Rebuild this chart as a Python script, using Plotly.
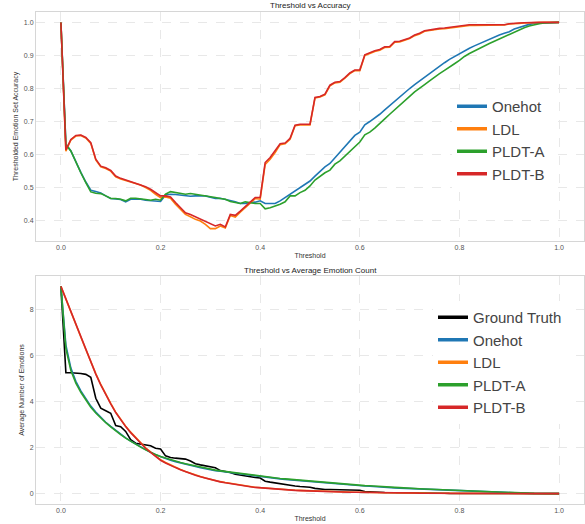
import plotly.graph_objects as go

threshold = [round(i * 0.01, 2) for i in range(101)]

# ---- Top chart: Threshold vs Accuracy ----
acc_onehot = [
    1.0, 0.632, 0.611, 0.577, 0.546, 0.517, 0.492, 0.488, 0.484, 0.475,
    0.467, 0.466, 0.464, 0.457, 0.465, 0.465, 0.465, 0.462, 0.460, 0.460,
    0.458, 0.478, 0.480, 0.479, 0.477, 0.475, 0.474, 0.475, 0.475, 0.475,
    0.471, 0.467, 0.468, 0.465, 0.460, 0.457, 0.452, 0.452, 0.455, 0.456,
    0.460, 0.452, 0.452, 0.452, 0.460, 0.470, 0.480, 0.490, 0.500, 0.510,
    0.520, 0.535, 0.550, 0.563, 0.573, 0.590, 0.609, 0.626, 0.643, 0.658,
    0.668, 0.690, 0.700, 0.710, 0.722, 0.735, 0.748, 0.762, 0.776, 0.788,
    0.800, 0.812, 0.823, 0.835, 0.847, 0.858, 0.868, 0.878, 0.888, 0.897,
    0.906, 0.914, 0.922, 0.929, 0.936, 0.943, 0.950, 0.956, 0.962, 0.967,
    0.972, 0.980, 0.985, 0.990, 0.994, 0.997, 0.998, 0.999, 1.0, 1.0,
    1.0]
acc_ldl = [
    1.0, 0.610, 0.644, 0.656, 0.658, 0.650, 0.634, 0.584, 0.563, 0.558,
    0.550, 0.533, 0.526, 0.521, 0.516, 0.513, 0.508, 0.500, 0.492, 0.480,
    0.470, 0.472, 0.468, 0.450, 0.435, 0.419, 0.412, 0.404, 0.399, 0.389,
    0.376, 0.376, 0.384, 0.378, 0.416, 0.411, 0.426, 0.440, 0.455, 0.467,
    0.465, 0.570, 0.586, 0.606, 0.630, 0.633, 0.646, 0.687, 0.690, 0.690,
    0.690, 0.771, 0.774, 0.781, 0.808, 0.817, 0.819, 0.831, 0.845, 0.854,
    0.854, 0.900, 0.907, 0.912, 0.916, 0.924, 0.925, 0.940, 0.941, 0.945,
    0.951, 0.960, 0.965, 0.973, 0.976, 0.978, 0.980, 0.981, 0.983, 0.984,
    0.986, 0.990, 0.991, 0.991, 0.991, 0.991, 0.991, 0.991, 0.992, 0.992,
    0.995, 0.997, 0.997, 0.998, 0.999, 1.0, 1.0, 1.0, 1.0, 1.0,
    1.0]
acc_pldt_a = [
    1.0, 0.630, 0.611, 0.576, 0.545, 0.515, 0.487, 0.483, 0.482, 0.475,
    0.467, 0.467, 0.465, 0.460, 0.468, 0.468, 0.467, 0.464, 0.462, 0.465,
    0.462, 0.480, 0.488, 0.485, 0.482, 0.480, 0.482, 0.480, 0.478, 0.475,
    0.472, 0.470, 0.467, 0.465, 0.458, 0.455, 0.452, 0.457, 0.454, 0.452,
    0.452, 0.436, 0.439, 0.444, 0.450, 0.457, 0.475, 0.475, 0.485, 0.492,
    0.505, 0.523, 0.535, 0.545, 0.553, 0.571, 0.581, 0.596, 0.611, 0.626,
    0.638, 0.660, 0.668, 0.680, 0.693, 0.708, 0.722, 0.735, 0.748, 0.762,
    0.776, 0.790, 0.800, 0.812, 0.823, 0.835, 0.845, 0.855, 0.864, 0.875,
    0.885, 0.897, 0.906, 0.914, 0.921, 0.930, 0.936, 0.943, 0.950, 0.958,
    0.965, 0.972, 0.978, 0.984, 0.989, 0.993, 0.996, 0.998, 0.999, 1.0,
    1.0]
acc_pldt_b = [
    1.0, 0.614, 0.646, 0.658, 0.659, 0.652, 0.636, 0.586, 0.565, 0.560,
    0.552, 0.535, 0.528, 0.523, 0.518, 0.515, 0.510, 0.503, 0.495, 0.485,
    0.475, 0.475, 0.472, 0.455, 0.440, 0.424, 0.419, 0.412, 0.406, 0.399,
    0.391, 0.384, 0.389, 0.381, 0.419, 0.416, 0.429, 0.442, 0.457, 0.470,
    0.470, 0.576, 0.591, 0.611, 0.633, 0.635, 0.649, 0.689, 0.692, 0.692,
    0.692, 0.773, 0.776, 0.783, 0.810, 0.819, 0.821, 0.833, 0.847, 0.856,
    0.856, 0.902, 0.909, 0.914, 0.918, 0.926, 0.927, 0.942, 0.943, 0.947,
    0.953, 0.962, 0.967, 0.975, 0.978, 0.980, 0.982, 0.983, 0.985, 0.986,
    0.988, 0.992, 0.993, 0.993, 0.993, 0.993, 0.993, 0.993, 0.993, 0.993,
    0.996, 0.998, 0.998, 0.999, 1.0, 1.0, 1.0, 1.0, 1.0, 1.0,
    1.0]

# ---- Bottom chart: Threshold vs Average Emotion Count ----
cnt_ground_truth = [
    9.0, 5.25, 5.25, 5.25, 5.22, 5.18, 5.05, 4.14, 3.71, 3.60,
    3.49, 2.96, 2.91, 2.70, 2.34, 2.19, 2.15, 2.12, 2.08, 1.97,
    1.94, 1.64, 1.57, 1.54, 1.52, 1.50, 1.42, 1.30, 1.25, 1.20,
    1.15, 1.12, 1.00, 0.97, 0.92, 0.84, 0.80, 0.76, 0.72, 0.70,
    0.68, 0.54, 0.50, 0.46, 0.43, 0.41, 0.36, 0.33, 0.31, 0.30,
    0.28, 0.23, 0.20, 0.18, 0.18, 0.17, 0.17, 0.16, 0.16, 0.15,
    0.15, 0.09, 0.07, 0.06, 0.06, 0.05, 0.05, 0.04, 0.04, 0.04,
    0.03, 0.03, 0.03, 0.02, 0.02, 0.02, 0.02, 0.02, 0.01, 0.01,
    0.01, 0.01, 0.01, 0.01, 0.01, 0.01, 0.0, 0.0, 0.0, 0.0,
    0.0, 0.0, 0.0, 0.0, 0.0, 0.0, 0.0, 0.0, 0.0, 0.0,
    0.0]
cnt_onehot = [
    9.0, 6.45, 5.45, 4.88, 4.46, 4.10, 3.80, 3.54, 3.31, 3.10,
    2.92, 2.74, 2.57, 2.42, 2.28, 2.15, 2.02, 1.90, 1.79, 1.69,
    1.60, 1.52, 1.45, 1.39, 1.33, 1.28, 1.23, 1.18, 1.13, 1.08,
    1.04, 1.00, 0.97, 0.94, 0.91, 0.88, 0.85, 0.82, 0.79, 0.76,
    0.74, 0.71, 0.69, 0.66, 0.64, 0.62, 0.60, 0.58, 0.56, 0.54,
    0.52, 0.50, 0.48, 0.46, 0.44, 0.43, 0.41, 0.39, 0.38, 0.36,
    0.35, 0.33, 0.32, 0.30, 0.29, 0.28, 0.26, 0.25, 0.24, 0.23,
    0.22, 0.21, 0.20, 0.19, 0.18, 0.17, 0.16, 0.15, 0.14, 0.13,
    0.12, 0.11, 0.10, 0.09, 0.08, 0.07, 0.06, 0.05, 0.045, 0.04,
    0.03, 0.025, 0.02, 0.015, 0.01, 0.008, 0.006, 0.004, 0.002, 0.001,
    0.0]
cnt_ldl = [
    9.0, 8.47, 7.90, 7.35, 6.80, 6.26, 5.72, 5.21, 4.74, 4.31,
    3.92, 3.54, 3.22, 2.93, 2.67, 2.43, 2.21, 1.99, 1.81, 1.63,
    1.47, 1.35, 1.24, 1.14, 1.05, 0.96, 0.88, 0.81, 0.74, 0.68,
    0.62, 0.57, 0.52, 0.48, 0.44, 0.40, 0.37, 0.34, 0.31, 0.28,
    0.26, 0.24, 0.22, 0.20, 0.19, 0.17, 0.16, 0.15, 0.14, 0.13,
    0.12, 0.11, 0.10, 0.09, 0.09, 0.08, 0.08, 0.07, 0.07, 0.06,
    0.06, 0.05, 0.05, 0.05, 0.04, 0.04, 0.04, 0.03, 0.03, 0.03,
    0.03, 0.03, 0.02, 0.02, 0.02, 0.02, 0.02, 0.01, 0.01, 0.01,
    0.01, 0.01, 0.01, 0.01, 0.01, 0.01, 0.01, 0.01, 0.01, 0.01,
    0.005, 0.005, 0.004, 0.004, 0.003, 0.002, 0.002, 0.001, 0.001, 0.0,
    0.0]
cnt_pldt_a = [
    9.0, 6.30, 5.35, 4.80, 4.40, 4.05, 3.75, 3.50, 3.28, 3.08,
    2.90, 2.72, 2.56, 2.41, 2.27, 2.14, 2.02, 1.90, 1.79, 1.70,
    1.61, 1.54, 1.47, 1.41, 1.35, 1.30, 1.25, 1.20, 1.15, 1.10,
    1.06, 1.02, 0.99, 0.96, 0.93, 0.90, 0.87, 0.84, 0.81, 0.78,
    0.76, 0.73, 0.71, 0.68, 0.66, 0.64, 0.62, 0.60, 0.58, 0.56,
    0.54, 0.52, 0.50, 0.48, 0.46, 0.45, 0.43, 0.41, 0.40, 0.38,
    0.37, 0.35, 0.34, 0.32, 0.31, 0.30, 0.28, 0.27, 0.26, 0.24,
    0.23, 0.22, 0.21, 0.20, 0.19, 0.18, 0.17, 0.16, 0.15, 0.14,
    0.13, 0.12, 0.11, 0.10, 0.09, 0.08, 0.07, 0.06, 0.05, 0.04,
    0.035, 0.03, 0.025, 0.02, 0.015, 0.01, 0.008, 0.005, 0.003, 0.001,
    0.0]
cnt_pldt_b = [
    9.0, 8.45, 7.88, 7.33, 6.78, 6.24, 5.70, 5.19, 4.72, 4.29,
    3.90, 3.52, 3.20, 2.91, 2.65, 2.41, 2.19, 1.97, 1.79, 1.61,
    1.45, 1.33, 1.22, 1.13, 1.04, 0.95, 0.87, 0.80, 0.73, 0.67,
    0.61, 0.56, 0.51, 0.47, 0.43, 0.39, 0.36, 0.33, 0.30, 0.27,
    0.25, 0.23, 0.21, 0.20, 0.18, 0.17, 0.16, 0.14, 0.13, 0.12,
    0.12, 0.11, 0.10, 0.09, 0.09, 0.08, 0.07, 0.07, 0.06, 0.06,
    0.06, 0.05, 0.05, 0.05, 0.04, 0.04, 0.04, 0.03, 0.03, 0.03,
    0.03, 0.03, 0.02, 0.02, 0.02, 0.02, 0.02, 0.01, 0.01, 0.01,
    0.01, 0.01, 0.01, 0.01, 0.01, 0.01, 0.01, 0.01, 0.01, 0.01,
    0.005, 0.005, 0.004, 0.004, 0.003, 0.002, 0.002, 0.001, 0.001, 0.0,
    0.0]

x_ticks = [0.0, 0.2, 0.4, 0.6, 0.8, 1.0]
x_ticklabels = ["0.0", "0.2", "0.4", "0.6", "0.8", "1.0"]
acc_ticks = [0.4, 0.5, 0.6, 0.7, 0.8, 0.9, 1.0]
acc_ticklabels = ["0.4", "0.5", "0.6", "0.7", "0.8", "0.9", "1.0"]
cnt_ticks = [0, 2, 4, 6, 8]
cnt_ticklabels = ["0", "2", "4", "6", "8"]

COLORS = {"Ground Truth": "#000000", "Onehot": "#1f77b4", "LDL": "#ff7f0e",
          "PLDT-A": "#2ca02c", "PLDT-B": "#d62728"}
FONT = "Liberation Sans, Arial, sans-serif"
W, H = 585, 524

fig = go.Figure()

top_series = [("Onehot", acc_onehot), ("LDL", acc_ldl), ("PLDT-A", acc_pldt_a), ("PLDT-B", acc_pldt_b)]
for name, ys in top_series:
    fig.add_trace(go.Scatter(x=threshold, y=ys, mode="lines", name=name, xaxis="x", yaxis="y",
                             line=dict(color=COLORS[name], width=1.6), showlegend=False))
for name, _ in top_series:
    fig.add_trace(go.Scatter(x=[None], y=[None], mode="lines", name=name, xaxis="x", yaxis="y",
                             line=dict(color=COLORS[name], width=3.5), legend="legend"))

bot_series = [("Ground Truth", cnt_ground_truth), ("Onehot", cnt_onehot), ("LDL", cnt_ldl),
              ("PLDT-A", cnt_pldt_a), ("PLDT-B", cnt_pldt_b)]
for name, ys in bot_series:
    fig.add_trace(go.Scatter(x=threshold, y=ys, mode="lines", name=name, xaxis="x2", yaxis="y2",
                             line=dict(color=COLORS[name], width=1.6), showlegend=False))
for name, _ in bot_series:
    fig.add_trace(go.Scatter(x=[None], y=[None], mode="lines", name=name, xaxis="x2", yaxis="y2",
                             line=dict(color=COLORS[name], width=3.5), legend="legend2"))

def px_x(p):
    return p / W

def px_y(p):
    return 1 - p / H

axis_common = dict(showgrid=True, gridcolor="#e8e8e8", griddash="dash", gridwidth=0.8,
                   zeroline=False, showline=True, linecolor="#d6d6d6", linewidth=1, mirror=True,
                   ticks="", automargin=False, tickfont=dict(size=7, color="#555555", family=FONT))

fig.update_layout(
    width=W, height=H, margin=dict(l=0, r=0, t=0, b=0, autoexpand=False),
    paper_bgcolor="white", plot_bgcolor="white",
    font=dict(family=FONT, color="#333333"),
    xaxis=dict(domain=[px_x(36), px_x(584)], anchor="y", range=[-0.05, 1.05],
               tickvals=x_ticks, ticktext=x_ticklabels,
               title=dict(text="Threshold", font=dict(size=7, color="#333333"), standoff=2), **axis_common),
    yaxis=dict(domain=[px_y(241), px_y(12)], anchor="x", range=[0.3385, 1.0315],
               tickvals=acc_ticks, ticktext=acc_ticklabels,
               title=dict(text="Thresholded Emotion Set Accuracy", font=dict(size=7, color="#333333"), standoff=4),
               **axis_common),
    xaxis2=dict(domain=[px_x(36), px_x(584)], anchor="y2", range=[-0.05, 1.05],
                tickvals=x_ticks, ticktext=x_ticklabels,
                title=dict(text="Threshold", font=dict(size=7, color="#333333"), standoff=2), **axis_common),
    yaxis2=dict(domain=[px_y(504), px_y(276)], anchor="x2", range=[-0.45, 9.45],
                tickvals=cnt_ticks, ticktext=cnt_ticklabels,
                title=dict(text="Average Number of Emotions", font=dict(size=7, color="#333333"), standoff=4),
                **axis_common),
    legend=dict(x=px_x(452), y=px_y(90), xanchor="left", yanchor="top", bgcolor="white",
                font=dict(size=15, color="#444444", family=FONT), borderwidth=0, tracegroupgap=0),
    legend2=dict(x=px_x(433), y=px_y(301), xanchor="left", yanchor="top", bgcolor="white",
                 font=dict(size=15, color="#444444", family=FONT), borderwidth=0, tracegroupgap=0),
    annotations=[
        dict(text="Threshold vs Accuracy", x=px_x(310), y=px_y(6), xref="paper", yref="paper",
             showarrow=False, font=dict(size=8, color="#222222", family=FONT), xanchor="center", yanchor="middle"),
        dict(text="Threshold vs Average Emotion Count", x=px_x(310), y=px_y(270), xref="paper", yref="paper",
             showarrow=False, font=dict(size=8, color="#222222", family=FONT), xanchor="center", yanchor="middle"),
    ],
)

fig.write_html("out.html", config={"displayModeBar": False},
               post_script="document.body.style.margin='0';document.body.style.overflow='hidden';")
